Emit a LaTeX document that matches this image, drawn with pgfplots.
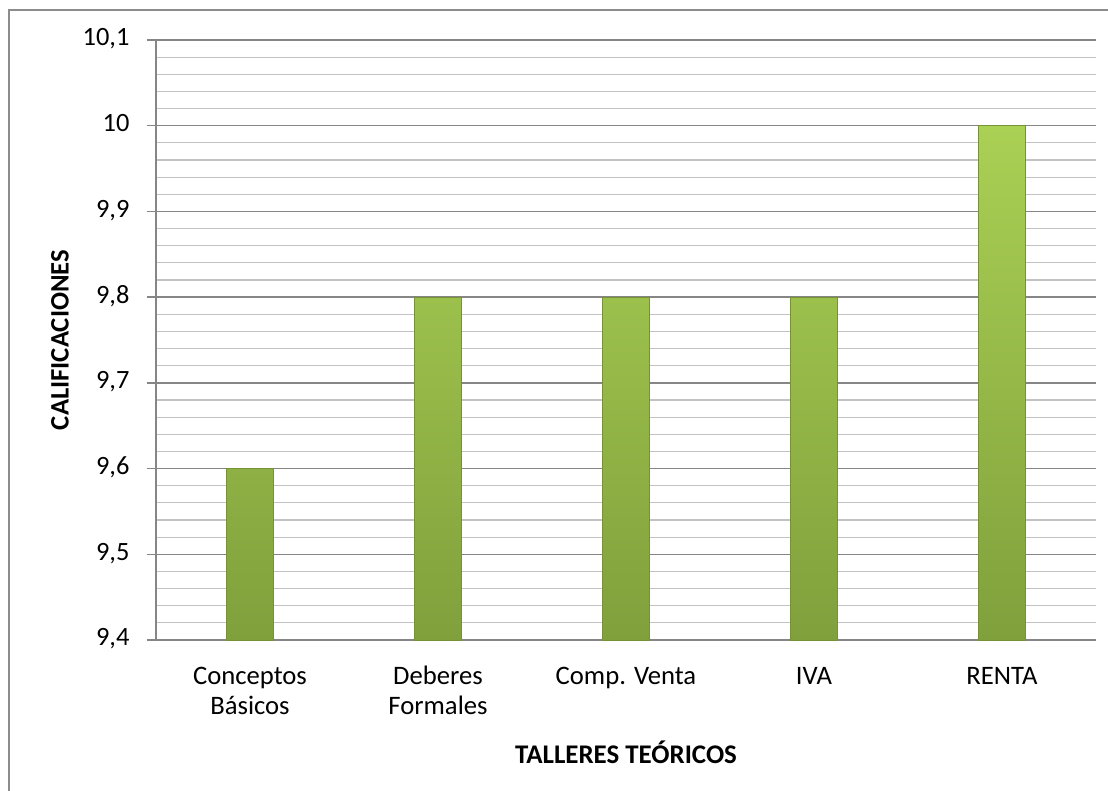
\documentclass[border=0pt]{standalone}
\usepackage{pgfplots}
\pgfplotsset{compat=1.18}
\usepackage{fontspec}
\setmainfont{Carlito}
\definecolor{gridmaj}{RGB}{134,134,134}
\definecolor{gridmin}{RGB}{195,195,195}
\definecolor{framec}{RGB}{140,140,140}
\definecolor{bartop}{RGB}{170,208,84}
\definecolor{barbot}{RGB}{128,160,60}
\definecolor{barborder}{RGB}{118,146,52}
\begin{document}
\begin{tikzpicture}
\useasboundingbox (0pt,0pt) rectangle (831pt,592.5pt);
\draw[framec, line width=1.3pt] (6.75pt,-10pt) -- (6.75pt,585pt) -- (850pt,585pt);
\begin{axis}[
  at={(117pt,112.5pt)}, anchor=south west,
  scale only axis, width=705pt, height=450pt,
  xmin=-0.5, xmax=4.5,
  ymin=9.4, ymax=10.1,
  y coord trafo/.code={\pgfmathparse{#1-9.4}},
  y coord inv trafo/.code={\pgfmathparse{#1+9.4}},
  axis x line*=bottom, axis y line*=left,
  axis line style={gridmaj, line width=1pt, -},
  xtick=data,
  xticklabels={{Conceptos\\Básicos},{Deberes\\Formales},{Comp. Venta},{IVA},{RENTA}},
  typeset ticklabels with strut,
  x tick style={draw=none},
  ytick={9.4,9.5,9.6,9.7,9.8,9.9,10,10.1},
  yticklabels={{9,4},{9,5},{9,6},{9,7},{9,8},{9,9},{10},{10,1}},
  minor ytick={9.42,9.44,9.46,9.48,9.52,9.54,9.56,9.58,9.62,9.64,9.66,9.68,9.72,9.74,9.76,9.78,9.82,9.84,9.86,9.88,9.92,9.94,9.96,9.98,10.02,10.04,10.06,10.08},
  ymajorgrids, yminorgrids,
  major grid style={gridmaj, line width=1pt},
  minor grid style={gridmin, line width=0.8pt},
  y tick style={gridmaj, line width=1pt},
  major tick length=6.75pt,
  minor tick length=0pt,
  tick align=outside,
  yticklabel style={font=\fontsize{19.8}{22}\selectfont, anchor=east, inner sep=0pt, xshift=-13pt},
  xticklabel style={font=\fontsize{20}{22.5}\selectfont, align=center, anchor=north, inner sep=0pt, yshift=-11pt},
  every axis y label/.style={at={(axis description cs:-0.1021,0.5)}, rotate=90, anchor=center, font=\fontsize{20}{22}\selectfont\bfseries},
  every axis x label/.style={at={(axis description cs:0.5,-0.1867)}, anchor=center, font=\fontsize{20.2}{22}\selectfont\bfseries},
  ylabel={CALIFICACIONES},
  xlabel={TALLERES TEÓRICOS},
]
\addplot[ybar, bar width=0.25, bar shift=0pt, draw=barborder, line width=0.5pt, top color=bartop, bottom color=barbot]
  coordinates {(0,9.6) (1,9.8) (2,9.8) (3,9.8) (4,10)};
\end{axis}
\end{tikzpicture}
\end{document}
